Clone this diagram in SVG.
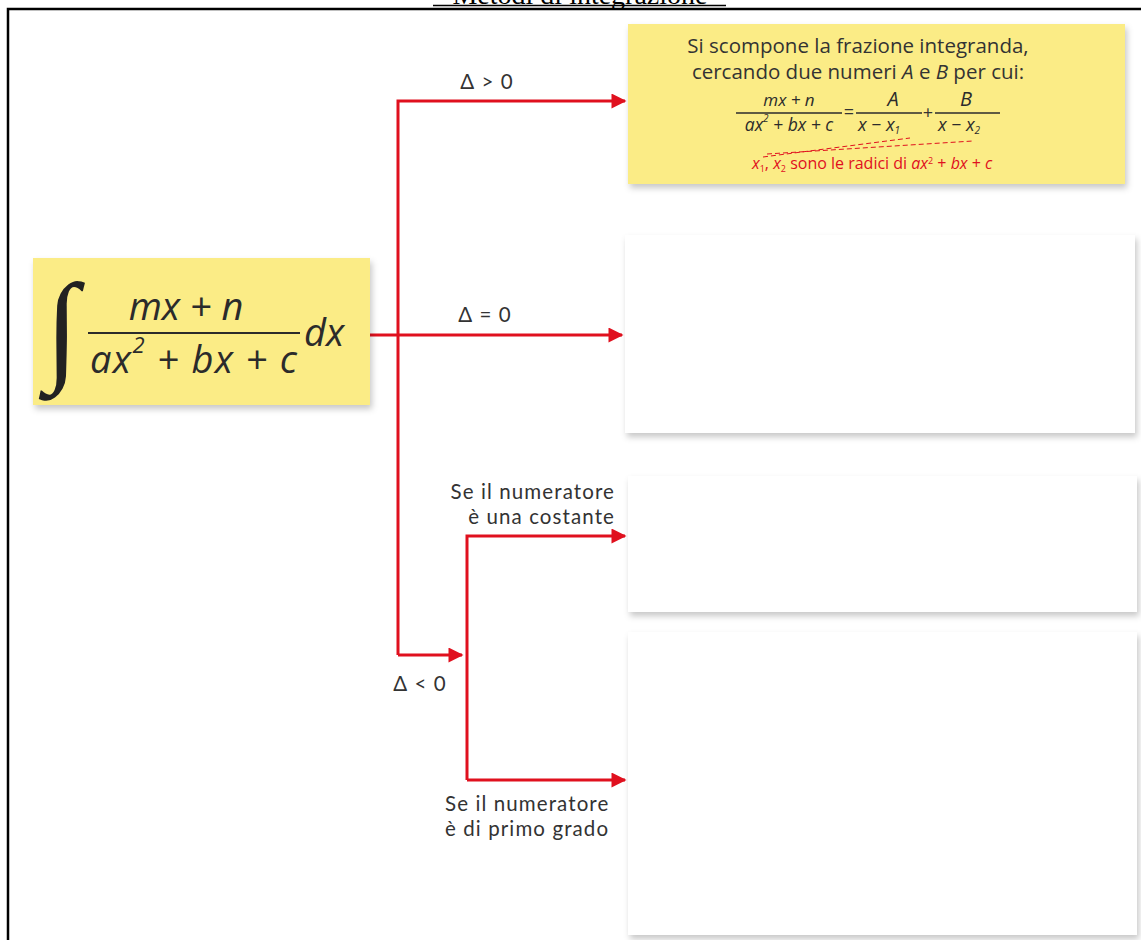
<svg xmlns="http://www.w3.org/2000/svg" width="1141" height="940" viewBox="0 0 1141 940">
<defs>
<style>
.t{font-family:"Open Sans",Lato,"Liberation Sans",sans-serif;fill:#333;}
.lbl{font-family:Lato,"Open Sans","Liberation Sans",sans-serif;font-size:20.5px;letter-spacing:1.1px;fill:#333;}
.m{font-family:"Open Sans",Lato,"Liberation Sans",sans-serif;font-style:italic;fill:#2b2b2b;}
.c{stroke:#e0101e;stroke-width:3;fill:none;}
.yb{fill:#fbec86;}
.wb{fill:#ffffff;}
</style>
<filter id="sh" x="-5%" y="-5%" width="112%" height="120%">
<feDropShadow dx="2" dy="4" stdDeviation="3" flood-color="#000" flood-opacity="0.22"/>
</filter>
<marker id="ah" viewBox="0 0 10 10" refX="9" refY="5" markerWidth="5.5" markerHeight="5" orient="auto" markerUnits="strokeWidth">
<path d="M0,0 L10,5 L0,10 z" fill="#e0101e"/>
</marker>
</defs>
<rect width="1141" height="940" fill="#fff"/>
<g id="frame">
<path d="M8,940 V9 H1141" stroke="#000" stroke-width="2.5" fill="none"/>
<text x="580" y="4" text-anchor="middle" font-family="Liberation Serif,serif" font-size="28" fill="#000">Metodi di integrazione</text>
<line x1="433" y1="5.5" x2="726" y2="5.5" stroke="#000" stroke-width="1.5"/>
</g>
<g id="connectors">
<path class="c" d="M370,335 H622" marker-end="url(#ah)"/>
<path class="c" d="M398,655 V101 H625" marker-end="url(#ah)"/>
<path class="c" d="M398,655 H462" marker-end="url(#ah)"/>
<path class="c" d="M467,780 V536 H625" marker-end="url(#ah)"/>
<path class="c" d="M467,780 H625" marker-end="url(#ah)"/>
<text class="lbl" x="487" y="89" text-anchor="middle">Δ &gt; 0</text>
<text class="lbl" x="485" y="322" text-anchor="middle">Δ = 0</text>
<text class="lbl" x="420" y="691" text-anchor="middle">Δ &lt; 0</text>
<text class="lbl" x="615" y="499" text-anchor="end">Se il numeratore</text>
<text class="lbl" x="615" y="524" text-anchor="end">è una costante</text>
<text class="lbl" x="445" y="811">Se il numeratore</text>
<text class="lbl" x="445" y="836">è di primo grado</text>
</g>
<g id="node-integral">
<rect class="yb" x="33" y="258" width="337" height="147" filter="url(#sh)"/>
<text x="62" y="368" font-family="Liberation Serif,serif" font-size="122" fill="#222" text-anchor="middle">∫</text>
<text class="m" x="186" y="320" font-size="38" text-anchor="middle">mx + n</text>
<line x1="88" y1="333" x2="300" y2="333" stroke="#2b2b2b" stroke-width="2"/>
<text class="m" x="90" y="373" font-size="38" textLength="207" lengthAdjust="spacing">ax<tspan font-size="22" dy="-20">2</tspan><tspan dy="20"> + bx + c</tspan></text>
<text class="m" x="304" y="346" font-size="38">dx</text>
</g>
<g id="node-pos">
<rect class="yb" x="628" y="24" width="497" height="160" filter="url(#sh)"/>
<text class="t" x="858" y="53" font-size="20.5" text-anchor="middle">Si scompone la frazione integranda,</text>
<text class="t" x="858" y="79" font-size="20.5" text-anchor="middle">cercando due numeri <tspan font-style="italic">A</tspan> e <tspan font-style="italic">B</tspan> per cui:</text>
<text class="m" x="789" y="106" font-size="17" text-anchor="middle">mx + n</text>
<line x1="736" y1="113" x2="842" y2="113" stroke="#2b2b2b" stroke-width="1.3"/>
<text class="m" x="789" y="131" font-size="17.5" text-anchor="middle">ax<tspan font-size="10" dy="-9">2</tspan><tspan dy="9"> + bx + c</tspan></text>
<text class="t" x="849" y="118" font-size="18" text-anchor="middle">=</text>
<text class="m" x="893" y="106" font-size="20" text-anchor="middle">A</text>
<line x1="856" y1="113" x2="922" y2="113" stroke="#2b2b2b" stroke-width="1.3"/>
<text class="m" x="858" y="131" font-size="18">x − x<tspan font-size="10" dy="3">1</tspan></text>
<text class="t" x="928" y="119" font-size="18" text-anchor="middle">+</text>
<text class="m" x="966" y="106" font-size="20" text-anchor="middle">B</text>
<line x1="935" y1="113" x2="1000" y2="113" stroke="#2b2b2b" stroke-width="1.3"/>
<text class="m" x="938" y="131" font-size="18">x − x<tspan font-size="10" dy="3">2</tspan></text>
<path d="M763,157 L910,138 M767,154 L973,141" stroke="#e0101e" stroke-width="1" stroke-dasharray="5,3" fill="none"/>
<text x="752" y="169" font-family="'Open Sans',Lato,'Liberation Sans',sans-serif" font-size="16" fill="#e0101e"><tspan font-style="italic">x</tspan><tspan font-size="9" dy="3">1</tspan><tspan dy="-3">, </tspan><tspan font-style="italic">x</tspan><tspan font-size="9" dy="3">2</tspan><tspan dy="-3"> sono le radici di </tspan><tspan font-style="italic">ax</tspan><tspan font-size="9" dy="-5">2</tspan><tspan dy="5"> + </tspan><tspan font-style="italic">bx</tspan> + <tspan font-style="italic">c</tspan></text>
</g>
<g id="node-zero">
<rect class="wb" x="625" y="235" width="510" height="198" filter="url(#sh)"/>
</g>
<g id="node-const">
<rect class="wb" x="628" y="476" width="509" height="136" filter="url(#sh)"/>
</g>
<g id="node-first">
<rect class="wb" x="628" y="632" width="509" height="303" filter="url(#sh)"/>
</g>
</svg>
